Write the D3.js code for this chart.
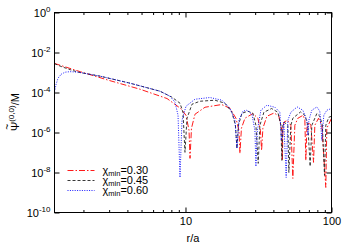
<!DOCTYPE html>
<html><head><meta charset="utf-8">
<script src="https://cdn.jsdelivr.net/npm/d3@7"></script>
<style>
body{margin:0;background:#fff}
svg{display:block}
text{font-family:"Liberation Sans",Arial,Helvetica,sans-serif;fill:#000}
</style>
</head><body>
<svg id="c" width="350" height="245"></svg>
<script>
// ---- data (r/a , Psi/M) ----
const legendValues = ["0.30", "0.45", "0.60"];

const red030 = [
  [1.267,2.84e-3],[1.90,1.10e-3],[3.04,3.90e-4],[4.88,1.46e-4],[7.47,5.00e-5],
  [9.27,1.58e-5],[10.08,7.28e-6],[10.57,1.29e-6],[10.74,5.09e-8],[10.99,1.63e-6],
  [11.61,8.17e-6],[13.60,1.83e-5],[17.69,2.50e-5],[20.16,1.63e-5],[22.15,5.15e-6],
  [23.23,1.29e-6],[23.60,9.06e-8],[24.16,1.63e-6],[25.53,5.15e-6],[28.95,8.86e-6],
  [31.33,5.15e-6],[32.59,1.29e-6],[33.21,1.28e-7],[33.89,1.63e-6],[36.10,6.49e-6],
  [40.50,9.49e-6],[43.61,6.49e-6],[45.72,1.29e-6],[46.08,4.04e-8],[46.44,1.29e-6],
  [47.18,3.25e-6],[49.85,4.09e-6],[52.67,2.30e-6],[54.36,5.06e-9],[56.10,2.30e-6],
  [58.82,5.15e-6],[63.94,7.28e-6],[65.69,4.09e-6],[66.73,4.04e-8],[67.79,1.63e-6],
  [69.96,3.25e-6],[72.20,2.30e-6],[75.33,3.21e-8],[76.89,2.30e-6],[81.50,5.15e-6],
  [85.85,2.30e-6],[91.42,1.79e-9],[92.88,1.63e-6],[100,5.15e-6]
];

const black045 = [
  [1.267,2.78e-3],[1.385,2.08e-3],[1.62,1.39e-3],[1.84,1.04e-3],[2.60,6.56e-4],
  [4.17,2.92e-4],[6.69,1.16e-4],[8.08,5.81e-5],[9.17,2.91e-5],[9.61,1.03e-5],
  [9.92,1.02e-7],[10.24,5.15e-6],[11.08,2.59e-5],[12.57,3.66e-5],[15.92,4.11e-5],
  [18.63,2.91e-5],[20.80,1.03e-5],[21.98,2.30e-6],[22.51,1.62e-7],[23.04,2.30e-6],
  [24.35,9.17e-6],[26.76,1.16e-5],[28.95,9.17e-6],[30.36,2.30e-6],[31.48,2.86e-8],
  [32.33,2.30e-6],[34.43,1.03e-5],[38.88,1.58e-5],[42.93,1.03e-5],[45.01,2.30e-6],
  [45.72,4.04e-8],[46.44,2.30e-6],[47.55,3.25e-6],[50.24,2.30e-6],[51.04,1.01e-8],
  [52.67,2.30e-6],[54.36,5.15e-6],[61.38,1.07e-5],[65.69,7.28e-6],[68.87,2.30e-6],
  [71.41,2.02e-8],[73.34,2.30e-6],[79.35,8.86e-6],[83.18,6.49e-6],[86.52,2.30e-6],
  [89.56,7.16e-9],[91.42,2.30e-6],[95.83,5.78e-6],[100,6.49e-6]
];

const blue060 = [
  [1.267,1.07e-4],[1.30,2.61e-4],[1.34,5.21e-4],[1.41,8.27e-4],[1.50,1.04e-3],
  [1.62,1.10e-3],[1.84,1.04e-3],[2.60,6.56e-4],[4.17,2.92e-4],[6.69,1.16e-4],
  [7.83,6.53e-5],[8.48,3.27e-5],[8.89,7.28e-6],[9.17,5.68e-9],[9.46,4.09e-6],
  [10.08,2.06e-5],[11.61,4.61e-5],[14.71,5.61e-5],[17.77,4.11e-5],[20.16,1.63e-5],
  [21.81,4.09e-6],[22.51,1.62e-7],[23.23,4.09e-6],[24.74,1.16e-5],[26.35,1.30e-5],
  [28.50,8.17e-6],[29.88,1.29e-6],[30.36,2.02e-8],[31.08,1.29e-6],[32.84,1.30e-5],
  [36.10,2.31e-5],[40.95,1.83e-5],[44.31,1.03e-5],[45.36,4.07e-7],[47.18,3.25e-6],
  [48.92,5.68e-9],[50.24,4.09e-6],[52.67,1.03e-5],[58.17,1.90e-5],[63.65,1.30e-5],
  [67.79,4.09e-6],[68.87,7.24e-7],[69.96,4.09e-6],[73.34,1.30e-5],[79.35,1.90e-5],
  [83.18,1.16e-5],[85.85,4.07e-7],[88.58,7.28e-6],[92.88,1.30e-5],[100,1.58e-5]
];

const yTickExps = [0, -2, -4, -6, -8, -10];
const xMajorTicks = [10, 100];
const xMinorTicks = [2,3,4,5,6,7,8,9,20,30,40,50,60,70,80,90];

// ---- layout ----
const L = 54.5, R = 331.5, T = 12.5, B = 212.5;
const svg = d3.select("#c");
svg.append("rect").attr("width",350).attr("height",245).attr("fill","#fff");

const x = d3.scaleLog().domain([1.267, 100]).range([L, R]);
const y = d3.scaleLog().domain([1e-10, 1]).range([B, T]);

svg.append("defs").append("clipPath").attr("id","clip")
  .append("rect").attr("x",L).attr("y",T).attr("width",R-L).attr("height",B-T);

const series = [
  {data: red030,   color:"#ff0000", dash:"6,2,1.5,2", w:0.9},
  {data: black045, color:"#222222", dash:"3,2",       w:0.9},
  {data: blue060,  color:"#0000ff", dash:"1,1.4",     w:0.9}
];

const line = d3.line().x(d => x(d[0])).y(d => y(d[1]));
const gLines = svg.append("g").attr("clip-path","url(#clip)");
series.forEach(s => {
  gLines.append("path").attr("d", line(s.data)).attr("fill","none")
    .attr("stroke", s.color).attr("stroke-width", s.w)
    .attr("stroke-dasharray", s.dash).attr("stroke-linejoin","round");
});

// ---- axes ----
function styleAxis(g){
  g.select(".domain").remove();
  g.selectAll("line").attr("stroke","#000").attr("stroke-width",1);
  g.selectAll("text").attr("font-size",11).attr("font-family",'"Liberation Sans",Arial,sans-serif');
}
const gxB = svg.append("g").attr("transform",`translate(0,${B})`)
  .call(d3.axisBottom(x).tickValues(xMajorTicks).tickSize(-5).tickPadding(5).tickFormat(d3.format("d")));
styleAxis(gxB);
const gxBm = svg.append("g").attr("transform",`translate(0,${B})`)
  .call(d3.axisBottom(x).tickValues(xMinorTicks).tickSize(-2.5).tickFormat(""));
styleAxis(gxBm);
const gxT = svg.append("g").attr("transform",`translate(0,${T})`)
  .call(d3.axisTop(x).tickValues(xMajorTicks).tickSize(-5).tickFormat(""));
styleAxis(gxT);
const gxTm = svg.append("g").attr("transform",`translate(0,${T})`)
  .call(d3.axisTop(x).tickValues(xMinorTicks).tickSize(-2.5).tickFormat(""));
styleAxis(gxTm);

const yTickVals = yTickExps.map(e => Math.pow(10, e));
const gyL = svg.append("g").attr("transform",`translate(${L},0)`)
  .call(d3.axisLeft(y).tickValues(yTickVals).tickSize(-5).tickPadding(4).tickFormat(""));
styleAxis(gyL);
gyL.selectAll(".tick text").each(function(d, i){
  const t = d3.select(this).attr("dy", null).attr("y", 4);
  t.text(null);
  t.append("tspan").text("10");
  t.append("tspan").attr("font-size",8).attr("dy",-5).text(String(yTickExps[i]));
});
const gyR = svg.append("g").attr("transform",`translate(${R},0)`)
  .call(d3.axisRight(y).tickValues(yTickVals).tickSize(-5).tickFormat(""));
styleAxis(gyR);

// frame
svg.append("rect").attr("x",L).attr("y",T).attr("width",R-L).attr("height",B-T)
  .attr("fill","none").attr("stroke","#000").attr("stroke-width",1);

// axis titles
svg.append("text").attr("x",(L+R)/2).attr("y",242).attr("text-anchor","middle")
  .attr("font-size",11).text("r/a");

const yl = svg.append("g").attr("transform","translate(19,131) rotate(-90)");
const ylt = yl.append("text").attr("font-size",11);
ylt.append("tspan").text("Ψ");
ylt.append("tspan").attr("font-size",8).attr("dy",-5).text("(0,0)");
ylt.append("tspan").attr("dy",5).text("/M");
yl.append("text").attr("x",4.2).attr("y",-8).attr("text-anchor","middle")
  .attr("font-size",10).text("~");

// legend
const legY = [170.5, 180.5, 190.5];
series.forEach((s, i) => {
  svg.append("line").attr("x1",67.5).attr("x2",94.5).attr("y1",legY[i]).attr("y2",legY[i])
    .attr("stroke",s.color).attr("stroke-width",s.w).attr("stroke-dasharray",s.dash);
  const t = svg.append("text").attr("x",102.5).attr("y",legY[i]+3.5).attr("font-size",11);
  t.append("tspan").text("χ");
  t.append("tspan").attr("font-size",7.5).attr("dy",2).text("min");
  t.append("tspan").attr("dy",-2).text("=" + legendValues[i]);
});
</script>
</body></html>
